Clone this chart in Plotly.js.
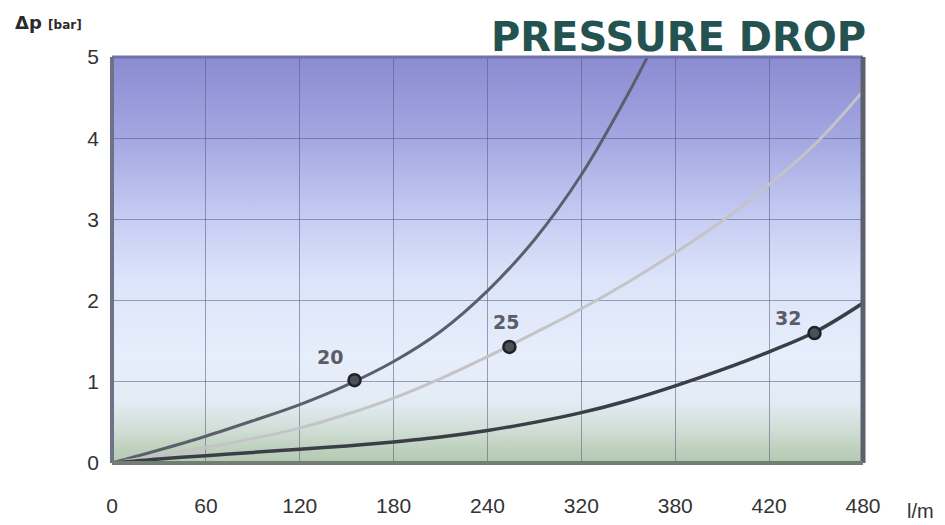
<!DOCTYPE html>
<html>
<head>
<meta charset="utf-8">
<script src="https://cdn.plot.ly/plotly-3.0.1.min.js"></script>
<style>
  html, body { margin: 0; padding: 0; background: #ffffff; }
  #chart { width: 945px; height: 525px; }
</style>
</head>
<body>
<div id="chart"></div>
<script>
// ---- data (flow positions on the chart's linear x scale, Δp in bar) ----
const flowX = [0, 30, 60, 90, 120, 150, 180, 210, 240, 270, 300, 330, 350];
const dp20  = [0, 0.16, 0.33, 0.52, 0.72, 0.96, 1.25, 1.62, 2.12, 2.75, 3.55, 4.55, 5.3];

const flowX25 = [0, 30, 60, 90, 120, 150, 180, 210, 240, 270, 300, 330, 360, 390, 420, 450, 480];
const dp25    = [0, 0.09, 0.19, 0.30, 0.43, 0.60, 0.80, 1.04, 1.31, 1.60, 1.90, 2.23, 2.59, 2.98, 3.43, 3.94, 4.58];

const flowX32 = [0, 30, 60, 90, 120, 150, 180, 210, 240, 270, 300, 330, 360, 390, 420, 450, 480];
const dp32    = [0, 0.05, 0.09, 0.13, 0.17, 0.21, 0.26, 0.32, 0.40, 0.50, 0.62, 0.77, 0.95, 1.15, 1.37, 1.62, 1.97];

const markerNames = ["20", "25", "32"];
const markerX = [155, 254, 449];
const markerY = [1.02, 1.43, 1.60];

const xTickVals = [0, 60, 120, 180, 240, 300, 360, 420, 480];
const xTickText = ["0", "60", "120", "180", "240", "320", "380", "420", "480"];
const yTickVals = [0, 1, 2, 3, 4, 5];

// ---- background gradient as an inline SVG image ----
const gradSvg =
  '<svg xmlns="http://www.w3.org/2000/svg" width="100" height="100" preserveAspectRatio="none">' +
  '<defs><linearGradient id="g" x1="0" y1="0" x2="0" y2="1">' +
  '<stop offset="0" stop-color="#8b8bd2"/>' +
  '<stop offset="0.2" stop-color="#a3a7e1"/>' +
  '<stop offset="0.4" stop-color="#c6cdf3"/>' +
  '<stop offset="0.55" stop-color="#dce4fa"/>' +
  '<stop offset="0.75" stop-color="#e7eefb"/>' +
  '<stop offset="0.85" stop-color="#e3ebf4"/>' +
  '<stop offset="0.91" stop-color="#d3e0d9"/>' +
  '<stop offset="0.96" stop-color="#c0d2c0"/>' +
  '<stop offset="1" stop-color="#b3c9b1"/>' +
  '</linearGradient></defs>' +
  '<rect x="0" y="0" width="100" height="100" fill="url(#g)"/></svg>';
const gradUri = 'data:image/svg+xml;base64,' + btoa(gradSvg);

const traces = [
  { x: flowX, y: dp20, mode: 'lines', line: { color: '#5b5f6c', width: 3, shape: 'spline', smoothing: 1 }, hoverinfo: 'skip' },
  { x: flowX25, y: dp25, mode: 'lines', line: { color: '#c4c4c8', width: 3, shape: 'spline', smoothing: 1 }, hoverinfo: 'skip' },
  { x: flowX32, y: dp32, mode: 'lines', line: { color: '#3a3e46', width: 3.5, shape: 'spline', smoothing: 1 }, hoverinfo: 'skip' },
  { x: markerX, y: markerY, mode: 'markers',
    marker: { size: 12, color: '#4a5058', line: { color: '#1e2226', width: 2.5 } }, hoverinfo: 'skip' }
];

const labelShift = [[-25, 23], [-3, 25], [-27, 15]];
const annotations = markerNames.map((n, i) => ({
  x: markerX[i], y: markerY[i], xref: 'x', yref: 'y', text: n, showarrow: false,
  xshift: labelShift[i][0], yshift: labelShift[i][1],
  font: { family: 'DejaVu Sans', size: 19, color: '#5a5d66', weight: 'bold' }
}));
annotations.push({
  x: 1.007, y: 1.0, xref: 'paper', yref: 'paper', xanchor: 'right', yanchor: 'bottom',
  yshift: -5, text: 'PRESSURE DROP', showarrow: false,
  font: { family: 'DejaVu Sans', size: 40, color: '#235250', weight: 'bold' }
});
annotations.push({
  x: -0.085, y: 1.0, xref: 'paper', yref: 'paper', xanchor: 'center', yanchor: 'bottom',
  yshift: 22, text: 'Δp <span style="font-size:12px">[bar]</span>', showarrow: false,
  font: { family: 'DejaVu Sans', size: 18, color: '#2b2b2b', weight: 'bold' }
});
annotations.push({
  x: 1.0, y: 0, xref: 'paper', yref: 'paper', xanchor: 'left', yanchor: 'top',
  xshift: 42, yshift: -35, text: 'l/m', showarrow: false,
  font: { family: 'Liberation Sans', size: 20, color: '#333' }
});

const layout = {
  width: 945, height: 525,
  margin: { l: 112, r: 82, t: 57, b: 62 },
  paper_bgcolor: '#ffffff',
  plot_bgcolor: 'rgba(0,0,0,0)',
  showlegend: false,
  xaxis: {
    range: [0, 480], tickvals: xTickVals, ticktext: xTickText,
    showgrid: true, gridcolor: 'rgba(85,90,125,0.55)', gridwidth: 1,
    zeroline: false, showline: false, ticks: '', ticklabelstandoff: 28,
    tickfont: { family: 'Liberation Sans', size: 21, color: '#333' },
    fixedrange: true
  },
  yaxis: {
    range: [0, 5], tickvals: yTickVals,
    showgrid: true, gridcolor: 'rgba(85,90,125,0.55)', gridwidth: 1,
    zeroline: false, showline: false, ticks: '', ticklabelstandoff: 12,
    tickfont: { family: 'Liberation Sans', size: 21, color: '#333' },
    fixedrange: true
  },
  images: [{
    source: gradUri, xref: 'paper', yref: 'paper', x: 0, y: 1, sizex: 1, sizey: 1,
    xanchor: 'left', yanchor: 'top', sizing: 'stretch', layer: 'below'
  }],
  shapes: [
    { type: 'line', xref: 'paper', yref: 'paper', x0: 0, x1: 1, y0: 1, y1: 1, line: { color: '#7173a6', width: 3 }, layer: 'above' },
    { type: 'line', xref: 'paper', yref: 'paper', x0: 0, x1: 0, y0: 0, y1: 1, line: { color: '#6d7288', width: 4 }, layer: 'above' },
    { type: 'line', xref: 'paper', yref: 'paper', x0: 1, x1: 1, y0: 0, y1: 1, line: { color: '#5c606e', width: 5 }, layer: 'above' },
    { type: 'line', xref: 'paper', yref: 'paper', x0: 0, x1: 1, y0: 0, y1: 0, line: { color: '#707f72', width: 4 }, layer: 'above' }
  ],
  annotations: annotations
};

Plotly.newPlot('chart', traces, layout, { staticPlot: true, displayModeBar: false });
</script>
</body>
</html>
